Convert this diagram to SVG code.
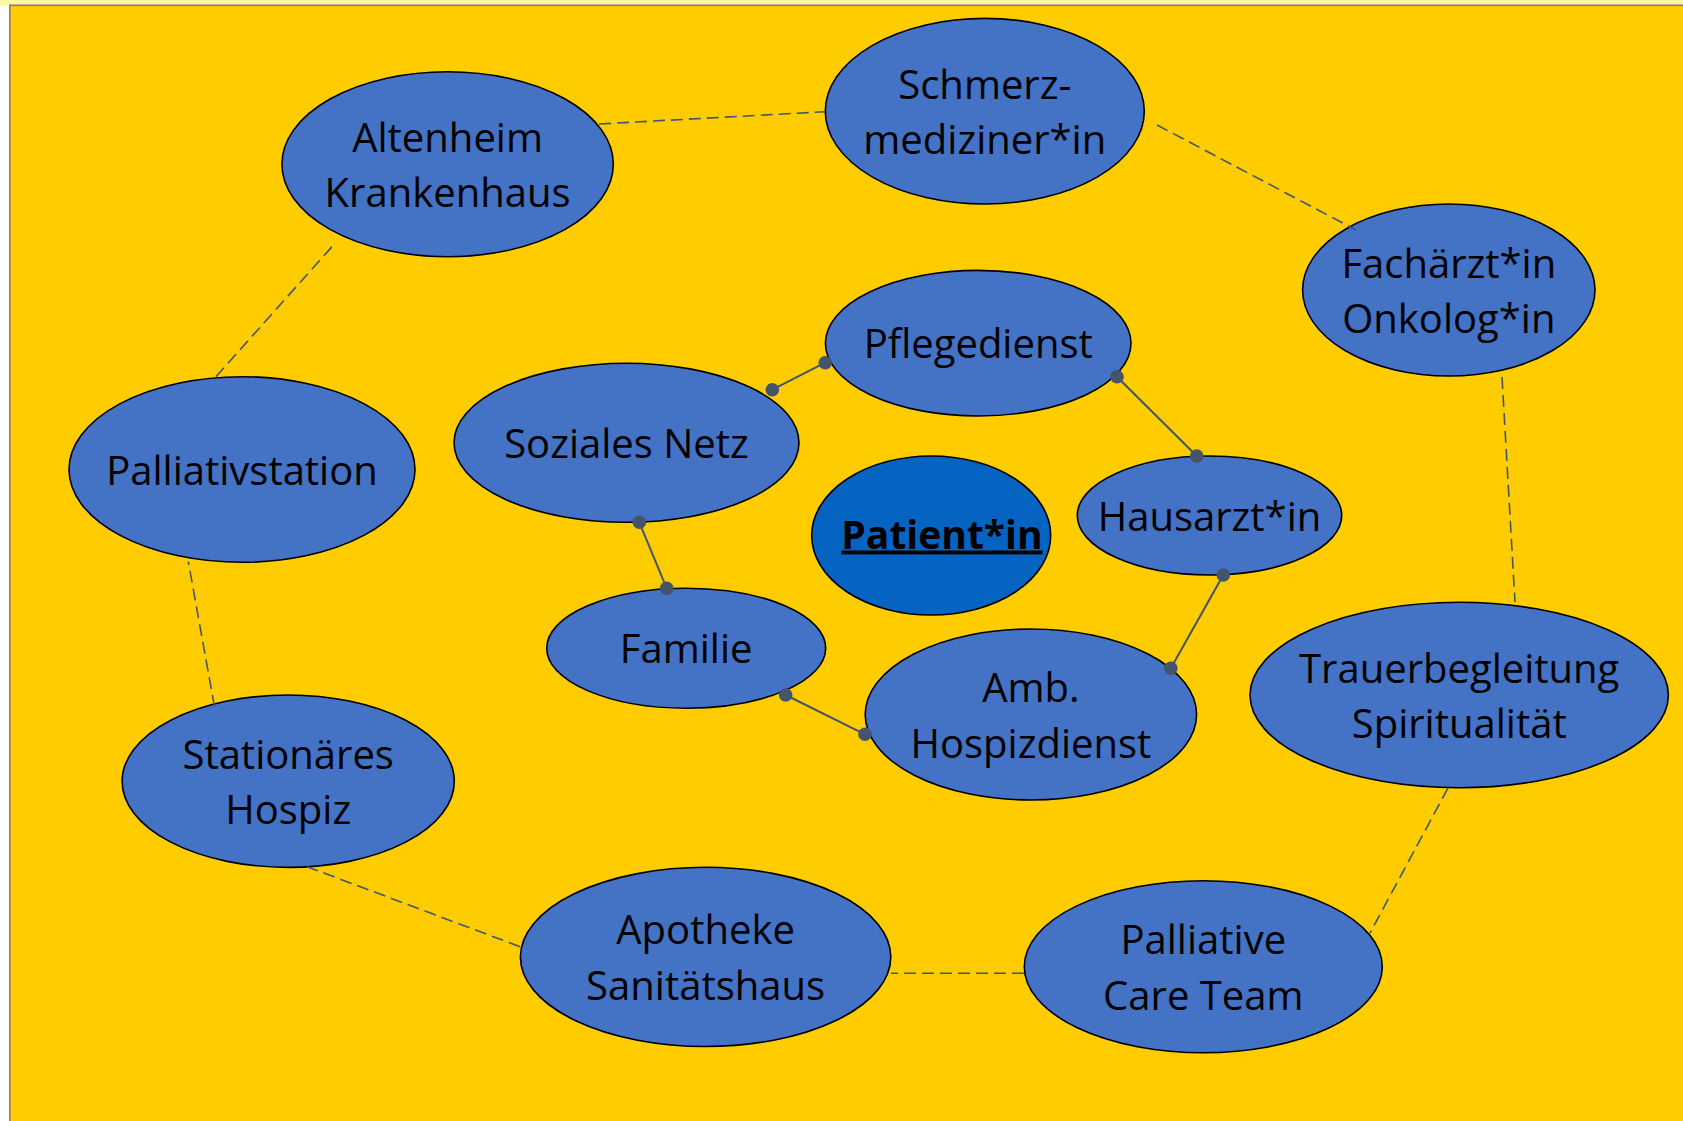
<svg xmlns="http://www.w3.org/2000/svg" width="1683" height="1121" viewBox="0 0 1683 1121">
<style>
.n{fill:#4472C4;stroke:#000;stroke-width:1.6}
.p{fill:#0563C1;stroke:#000;stroke-width:1.6}
.t{font-family:"Open Sans","Noto Sans","Liberation Sans",sans-serif;font-size:40px;fill:#000;text-anchor:middle}
.b{font-weight:bold;text-decoration:underline;font-size:39px}
.d{stroke:#44546A;stroke-width:1.6;stroke-dasharray:12 6;fill:none}
.s{stroke:#44546A;stroke-width:2;fill:none}
.dot{fill:#44546A}
</style>
<rect x="0" y="0" width="1683" height="1121" fill="#FFFFFF"/>
<rect x="0" y="0" width="1683" height="5" fill="#FFF9A6"/>
<rect x="9.8" y="5.3" width="1690" height="1130" fill="#FFCC00" stroke="#A0688A" stroke-width="1.6"/>
<g id="altenheim"><ellipse class="n" cx="447.6" cy="164.2" rx="165.7" ry="92.5"/><text class="t" x="447.6" y="151.7">Altenheim</text><text class="t" x="447.6" y="207.2">Krankenhaus</text></g>
<g id="schmerz"><ellipse class="n" cx="984.8" cy="111.2" rx="159.5" ry="92.8"/><text class="t" x="984.8" y="98.7">Schmerz-</text><text class="t" x="984.8" y="154.2">mediziner*in</text></g>
<g id="facharzt"><ellipse class="n" cx="1448.8" cy="290" rx="146.2" ry="86"/><text class="t" x="1448.8" y="277.5">Fachärzt*in</text><text class="t" x="1448.8" y="333">Onkolog*in</text></g>
<g id="pflegedienst"><ellipse class="n" cx="978.2" cy="343.2" rx="152.8" ry="72.8"/><text class="t" x="978.2" y="358.2">Pflegedienst</text></g>
<g id="soziales"><ellipse class="n" cx="626.5" cy="442.8" rx="172.5" ry="79.5"/><text class="t" x="626.5" y="457.8">Soziales Netz</text></g>
<g id="palliativstation"><ellipse class="n" cx="242" cy="469.5" rx="173" ry="92.8"/><text class="t" x="242" y="484.5">Palliativstation</text></g>
<g id="patient"><ellipse class="p" cx="931.2" cy="535.5" rx="119.5" ry="79.5"/><text class="t b" x="942" y="548.5">Patient*in</text></g>
<g id="hausarzt"><ellipse class="n" cx="1209.5" cy="515.5" rx="132.2" ry="59.5"/><text class="t" x="1209.5" y="530.5">Hausarzt*in</text></g>
<g id="familie"><ellipse class="n" cx="686.2" cy="648.2" rx="139.5" ry="60"/><text class="t" x="686.2" y="663.2">Familie</text></g>
<g id="amb"><ellipse class="n" cx="1030.9" cy="714.5" rx="165.7" ry="85.5"/><text class="t" x="1030.9" y="702">Amb.</text><text class="t" x="1030.9" y="757.5">Hospizdienst</text></g>
<g id="trauer"><ellipse class="n" cx="1459.2" cy="695" rx="209.2" ry="92.7"/><text class="t" x="1459.2" y="682.5">Trauerbegleitung</text><text class="t" x="1459.2" y="738">Spiritualität</text></g>
<g id="stationaeres"><ellipse class="n" cx="288.2" cy="781.2" rx="166.1" ry="86.2"/><text class="t" x="288.2" y="768.7">Stationäres</text><text class="t" x="288.2" y="824.2">Hospiz</text></g>
<g id="apotheke"><ellipse class="n" cx="705.6" cy="956.9" rx="185.2" ry="89.6"/><text class="t" x="705.6" y="944.4">Apotheke</text><text class="t" x="705.6" y="999.9">Sanitätshaus</text></g>
<g id="pct"><ellipse class="n" cx="1203.3" cy="966.7" rx="179" ry="86"/><text class="t" x="1203.3" y="954.2">Palliative</text><text class="t" x="1203.3" y="1009.7">Care Team</text></g>
<g id="connectors">
<line class="d" x1="599" y1="124" x2="825" y2="111.7"/>
<line class="d" x1="1157" y1="125" x2="1356" y2="230"/>
<line class="d" x1="1502" y1="377" x2="1515" y2="602"/>
<line class="d" x1="1448" y1="788" x2="1370" y2="933"/>
<line class="d" x1="1024" y1="973.3" x2="891" y2="973.3"/>
<line class="d" x1="520" y1="946.7" x2="307" y2="866.7"/>
<line class="d" x1="214.5" y1="706.7" x2="188.3" y2="561.7"/>
<line class="d" x1="216" y1="376.7" x2="335" y2="243.3"/>
<line class="s" x1="772.3" y1="389.7" x2="825.2" y2="362.7"/>
<line class="s" x1="1117" y1="376.7" x2="1196.7" y2="456"/>
<line class="s" x1="1223.3" y1="575" x2="1170.8" y2="668.3"/>
<line class="s" x1="865" y1="734.3" x2="785.7" y2="695"/>
<line class="s" x1="666.7" y1="588.3" x2="639.3" y2="522.3"/>
<circle class="dot" cx="772.3" cy="389.7" r="6.8"/>
<circle class="dot" cx="825.2" cy="362.7" r="6.8"/>
<circle class="dot" cx="1117" cy="376.7" r="6.8"/>
<circle class="dot" cx="1196.7" cy="456" r="6.8"/>
<circle class="dot" cx="1223.3" cy="575" r="6.8"/>
<circle class="dot" cx="1170.8" cy="668.3" r="6.8"/>
<circle class="dot" cx="865" cy="734.3" r="6.8"/>
<circle class="dot" cx="785.7" cy="695" r="6.8"/>
<circle class="dot" cx="666.7" cy="588.3" r="6.8"/>
<circle class="dot" cx="639.3" cy="522.3" r="6.8"/>
</g>
</svg>
